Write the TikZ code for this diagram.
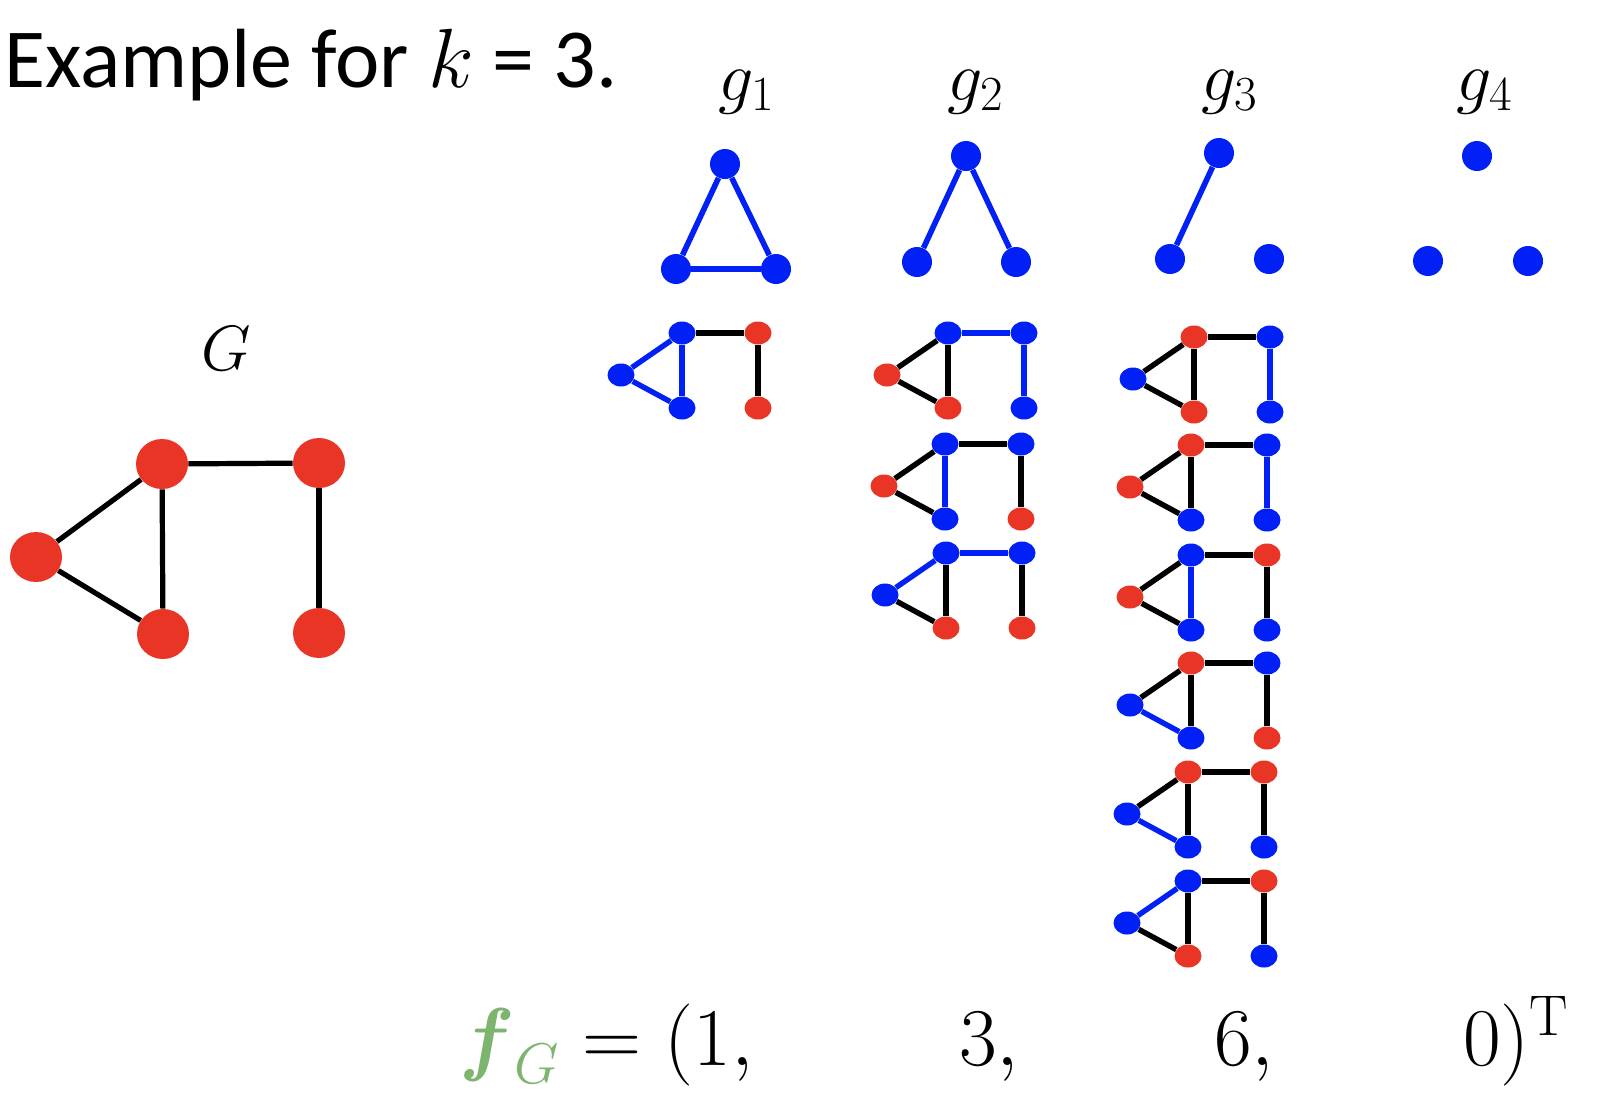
\RequirePackage{fix-cm}
\documentclass[tikz,border=0pt]{standalone}
\usepackage{fontspec}
\usepackage{amsmath}
\usepackage{xcolor}
\usetikzlibrary{shapes.geometric}

\newfontfamily\slidefont{Carlito}

\definecolor{vred}{RGB}{233,53,37}
\definecolor{vblue}{RGB}{0,32,245}
\definecolor{fgreen}{RGB}{125,180,110}

% vertices of one small copy of G: name, upper middle vertex, colours (l, tm, bm, tr, br)
\newcommand{\gnodes}[8]{%
  \node[sv, fill=#4] (#1-l)  at (#2-61,#3+42) {};
  \node[sv, fill=#5] (#1-tm) at (#2,#3) {};
  \node[sv, fill=#6] (#1-bm) at (#2,#3+75) {};
  \node[sv, fill=#7] (#1-tr) at (#2+76,#3) {};
  \node[sv, fill=#8] (#1-br) at (#2+76,#3+75) {};
}
% edges of one small copy: l-tm, l-bm, tm-bm, tm-tr, tr-br
\newcommand{\gedges}[6]{%
  \draw[se, #2] (#1-l) -- (#1-tm);
  \draw[se, #3] (#1-l) -- (#1-bm);
  \draw[se, #4] (#1-tm) -- (#1-bm);
  \draw[se, #5] (#1-tm) -- (#1-tr);
  \draw[se, #6] (#1-tr) -- (#1-br);
}

\begin{document}
\begin{tikzpicture}[
  x=0.5pt, y=-0.5pt,
  bigv/.style={ellipse, fill=vred, minimum width=26pt, minimum height=25pt, inner sep=0pt},
  pv/.style={circle, fill=vblue, minimum size=15pt, inner sep=0pt},
  sv/.style={ellipse, minimum width=13.5pt, minimum height=11.5pt, inner sep=0pt},
  ge/.style={line width=2.6pt},
  pe/.style={vblue, line width=2.8pt},
  se/.style={line width=2.7pt},
  glabel/.style={font=\fontsize{35}{35}\selectfont, anchor=base},
  vec/.style={font=\fontsize{41}{41}\selectfont, anchor=base west}
]
\useasboundingbox (0,0) rectangle (1598,1098);

% --- Title ---
\node[anchor=base west, inner xsep=0pt, font=\slidefont\fontsize{42}{42}\selectfont] (title) at (4,87)
  {Example for $k$ = 3.};

% --- The graph G ---
\node[font=\fontsize{32}{32}\selectfont] (glab) at (226,349) {$G$};
\node[bigv] (l)  at (36,557) {};
\node[bigv] (tm) at (162,464) {};
\node[bigv] (tr) at (319,463) {};
\node[bigv] (bm) at (163,634) {};
\node[bigv] (br) at (319,633) {};
\draw[ge] (l) -- (tm);
\draw[ge] (l) -- (bm);
\draw[ge] (tm) -- (bm);
\draw[ge] (tm) -- (tr);
\draw[ge] (tr) -- (br);

% --- Patterns g1 .. g4 ---
\node[glabel] (g1) at (747,100) {$g_1$};
\node[glabel] (g2) at (976,100) {$g_2$};
\node[glabel] (g3) at (1230,100) {$g_3$};
\node[glabel] (g4) at (1485,100) {$g_4$};

\node[pv] (p1t) at (725,164) {};
\node[pv] (p1l) at (676,269) {};
\node[pv] (p1r) at (776,269) {};
\draw[pe] (p1t) -- (p1l);
\draw[pe] (p1t) -- (p1r);
\draw[pe] (p1l) -- (p1r);

\node[pv] (p2t) at (966,156) {};
\node[pv] (p2l) at (917,262) {};
\node[pv] (p2r) at (1016,262) {};
\draw[pe] (p2t) -- (p2l);
\draw[pe] (p2t) -- (p2r);

\node[pv] (p3t) at (1219,153) {};
\node[pv] (p3l) at (1170,259) {};
\node[pv] (p3r) at (1269,259) {};
\draw[pe] (p3t) -- (p3l);

\node[pv] (p4t) at (1477,156) {};
\node[pv] (p4l) at (1428,261) {};
\node[pv] (p4r) at (1528,261) {};

% --- Occurrences of g1 ---
\gnodes{s1}{682}{333}{vblue}{vblue}{vblue}{vred}{vred}
\gedges{s1}{vblue}{vblue}{vblue}{black}{black}

% --- Occurrences of g2 ---
\gnodes{s2a}{948}{333}{vred}{vblue}{vred}{vblue}{vblue}
\gedges{s2a}{black}{black}{black}{vblue}{vblue}
\gnodes{s2b}{945}{444}{vred}{vblue}{vblue}{vblue}{vred}
\gedges{s2b}{black}{black}{vblue}{black}{black}
\gnodes{s2c}{946}{553}{vblue}{vblue}{vred}{vblue}{vred}
\gedges{s2c}{vblue}{black}{black}{vblue}{black}

% --- Occurrences of g3 ---
\gnodes{s3a}{1194}{337}{vblue}{vred}{vred}{vblue}{vblue}
\gedges{s3a}{black}{black}{black}{black}{vblue}
\gnodes{s3b}{1191}{445}{vred}{vred}{vblue}{vblue}{vblue}
\gedges{s3b}{black}{black}{black}{black}{vblue}
\gnodes{s3c}{1191}{555}{vred}{vblue}{vblue}{vred}{vblue}
\gedges{s3c}{black}{black}{vblue}{black}{black}
\gnodes{s3d}{1191}{663}{vblue}{vred}{vblue}{vblue}{vred}
\gedges{s3d}{black}{vblue}{black}{black}{black}
\gnodes{s3e}{1188}{772}{vblue}{vred}{vblue}{vred}{vblue}
\gedges{s3e}{black}{vblue}{black}{black}{black}
\gnodes{s3f}{1188}{881}{vblue}{vblue}{vred}{vred}{vblue}
\gedges{s3f}{vblue}{black}{black}{black}{black}

% --- Count vector ---
\node[vec] (f1) at (452,1065) {$\color{fgreen}\boldsymbol{f}_{G}\color{black} = (1,$};
\node[vec] (f2) at (952,1065) {$3,$};
\node[vec] (f3) at (1207,1065) {$6,$};
\node[vec] (f4) at (1456,1065) {$0)^{\mathrm{T}}$};

\end{tikzpicture}
\end{document}
